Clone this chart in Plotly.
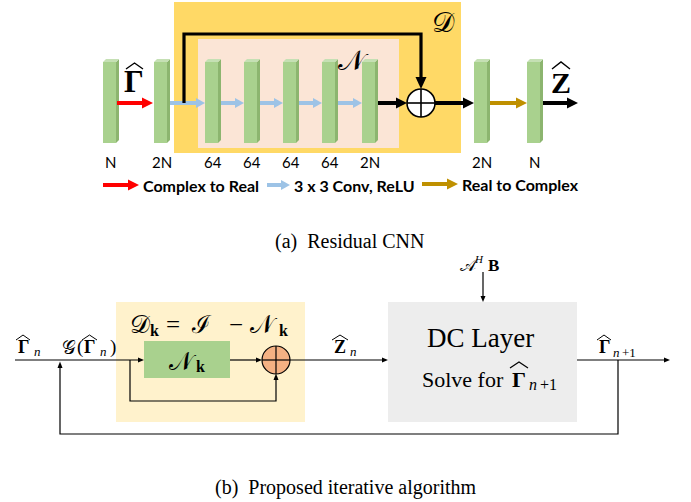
import plotly.graph_objects as go

# ---- content ----
bar_labels = ["N", "2N", "64", "64", "64", "64", "2N", "2N", "N"]
bar_x = [103, 154, 205, 244, 283, 322, 362, 474, 527]
legend_labels = ["Complex to Real", "3 x 3 Conv, ReLU", "Real to Complex"]
caption_a = "(a)\u00a0\u00a0Residual CNN"
caption_b = "(b)\u00a0\u00a0Proposed iterative algorithm"

GREEN = "#A9D18E"
GREEN_SIDE = "#8CB56F"
GREEN_TOP = "#C5E0B4"
RED = "#FF0000"
BLUE = "#9DC3E6"
GOLD = "#BF9000"
SERIF = "Liberation Serif"

shapes = []
annotations = []


def rect(x0, y0, x1, y1, fill):
    shapes.append(dict(type="rect", x0=x0, y0=y0, x1=x1, y1=y1, fillcolor=fill,
                       line=dict(color=fill, width=0)))


def poly(pts, fill):
    p = "M " + " L ".join(f"{x},{y}" for x, y in pts) + " Z"
    shapes.append(dict(type="path", path=p, fillcolor=fill, line=dict(color=fill, width=0)))


def seg(pts, color, w):
    p = "M " + " L ".join(f"{x},{y}" for x, y in pts)
    shapes.append(dict(type="path", path=p, line=dict(color=color, width=w)))


def arrow(x0, y0, x1, y1, color, w, hl, hw):
    dx, dy = x1 - x0, y1 - y0
    L = (dx * dx + dy * dy) ** 0.5
    ux, uy = dx / L, dy / L
    bx, by = x1 - ux * hl, y1 - uy * hl
    seg([(x0, y0), (bx + ux, by + uy)], color, w)
    px, py = -uy, ux
    poly([(x1, y1), (bx + px * hw / 2, by + py * hw / 2), (bx - px * hw / 2, by - py * hw / 2)], color)


def hat(x0, x1, ytop, h, lw=1.2):
    seg([(x0, ytop + h), ((x0 + x1) / 2, ytop), (x1, ytop + h)], "black", lw)


def piece(x, y, s, size, family=SERIF, bold=False, italic=False, xanchor="center", color="black"):
    annotations.append(dict(x=x, y=y, text=s, showarrow=False, xanchor=xanchor, yanchor="middle",
                            font=dict(size=size, family=family, color=color,
                                      weight="bold" if bold else "normal",
                                      style="italic" if italic else "normal")))


def circle(cx, cy, r, fill, lw=1.5):
    shapes.append(dict(type="circle", x0=cx - r, y0=cy - r, x1=cx + r, y1=cy + r,
                       fillcolor=fill, line=dict(color="black", width=lw)))
    seg([(cx - r, cy), (cx + r, cy)], "black", lw)
    seg([(cx, cy - r), (cx, cy + r)], "black", lw)


# ---- (a) Residual CNN ----
rect(174, 2, 461, 153, "#FFD966")
rect(198, 39, 399, 148, "#FBE5D6")

for bx in bar_x:
    fw, sw, top, bot, sl = 13, 3, 62, 143, 3
    poly([(bx, top), (bx + fw, top), (bx + fw, bot), (bx, bot)], GREEN)
    poly([(bx + fw, top), (bx + fw + sw, top - sl), (bx + fw + sw, bot - sl), (bx + fw, bot)], GREEN_SIDE)
    poly([(bx, top), (bx + sw, top - sl), (bx + fw + sw, top - sl), (bx + fw, top)], GREEN_TOP)

for bx, lab in zip(bar_x, bar_labels):
    piece(bx + 7.5, 162, lab, 15, family="Lato")

ya = 103
arrow(117, ya, 153, ya, RED, 4, 11, 11)
for i in range(1, 6):
    arrow(bar_x[i] + 16, ya, bar_x[i + 1], ya, BLUE, 4, 9, 10)
seg([(184, ya), (184, 34), (421, 34), (421, 80)], "black", 3.2)
poly([(421, 89), (415.5, 77), (426.5, 77)], "black")
arrow(378, ya, 407, ya, "black", 4, 11, 11)
circle(421, ya, 14, "white", 1.6)
arrow(435, ya, 474, ya, "black", 4, 11, 11)
arrow(490, ya, 527, ya, GOLD, 4, 11, 11)
arrow(543, ya, 578, ya, "black", 4, 11, 11)

piece(134, 81, "Γ", 31, bold=True)
hat(126, 143, 63, 6, 1.4)
piece(561, 82, "Z", 30, bold=True)
hat(552, 570, 62, 7, 1.4)
piece(353, 60, "𝒩", 28)
piece(443, 22, "𝒟", 28)

# legend
yl = 185
arrow(103, yl, 139, yl, RED, 4, 11, 11)
piece(141, yl, legend_labels[0], 16, family="Lato", bold=True, xanchor="left")
arrow(267, yl, 290, yl, BLUE, 4, 9, 10)
piece(292, yl, legend_labels[1], 16, family="Lato", bold=True, xanchor="left")
arrow(422, yl - 1, 458, yl - 1, GOLD, 4, 11, 11)
piece(460, yl - 1, legend_labels[2], 16, family="Lato", bold=True, xanchor="left")

piece(349, 241, caption_a, 20)

# ---- (b) iterative algorithm ----
rect(116, 302, 305, 422, "#FFF2CC")
rect(144, 341, 230, 378, GREEN)
rect(388, 302, 577, 422, "#EDEDED")

yb = 360
lw = 1.2
arrow(15, yb, 144, yb, "black", lw, 6, 5)
arrow(230, yb, 262, yb, "black", lw, 6, 5)
seg([(130, yb), (130, 401), (276, 401), (276, 380)], "black", lw)
poly([(276, 373.5), (273.5, 380), (278.5, 380)], "black")
circle(276, yb, 14, "#F4B183", 1.2)
arrow(290, yb, 388, yb, "black", lw, 6, 5)
arrow(577, yb, 670, yb, "black", lw, 6, 5)
seg([(618, yb), (618, 434), (60, 434), (60, 368)], "black", lw)
poly([(60, 361.5), (57.5, 368), (62.5, 368)], "black")
arrow(483, 272, 483, 302, "black", lw, 6, 5)

# D_k = I - N_k
piece(140, 324, "𝒟", 25)
piece(154, 330, "k", 16, bold=True)
piece(172.5, 324, "=", 25)
piece(201, 324, "ℐ", 25)
piece(236, 324, "−", 25)
piece(263.5, 324, "𝒩", 25)
piece(283, 330, "k", 16, bold=True)
# N_k in green box
piece(182.5, 361, "𝒩", 25)
piece(200.5, 366, "k", 16, bold=True)
# Gamma_n
piece(23, 347, "Γ", 18, bold=True)
hat(16, 30, 335, 5, 1)
piece(37, 351, "n", 13, italic=True)
# G(Gamma_n)
piece(69, 347, "𝒢", 19)
piece(79.5, 347, "(", 19)
piece(89.5, 347, "Γ", 18, bold=True)
hat(82, 97, 335, 5, 1)
piece(103, 351, "n", 13, italic=True)
piece(112.5, 347, ")", 19)
# Z_n
piece(340, 347, "Z", 18, bold=True)
hat(332, 348, 335, 5, 1)
piece(353, 351, "n", 13, italic=True)
# Gamma_{n+1} output
piece(604, 347, "Γ", 18, bold=True)
hat(597, 611, 335, 5, 1)
piece(616, 352, "n", 13, italic=True)
piece(620, 352, "+1", 13, xanchor="left")
# A^H B
piece(469, 265, "𝒜", 17)
piece(479, 259, "H", 11, italic=True)
piece(493.5, 265, "B", 17, bold=True)
# DC layer
piece(480, 338, "DC Layer", 27)
piece(506, 379, "Solve for", 22, xanchor="right")
piece(519, 379, "Γ", 22, bold=True)
hat(510, 528, 362, 6, 1.2)
piece(533, 384, "n", 16, italic=True)
piece(538, 384, "+1", 16, xanchor="left")

piece(345, 487, caption_b, 20)

fig = go.Figure()
fig.update_layout(
    width=691, height=502, margin=dict(l=0, r=0, t=0, b=0),
    paper_bgcolor="white", plot_bgcolor="white",
    xaxis=dict(range=[0, 691], visible=False, fixedrange=True),
    yaxis=dict(range=[502, 0], visible=False, fixedrange=True),
    shapes=shapes, annotations=annotations, showlegend=False,
)
fig.write_html("out.html", post_script="document.body.style.margin='0';",
               config={"displayModeBar": False})
